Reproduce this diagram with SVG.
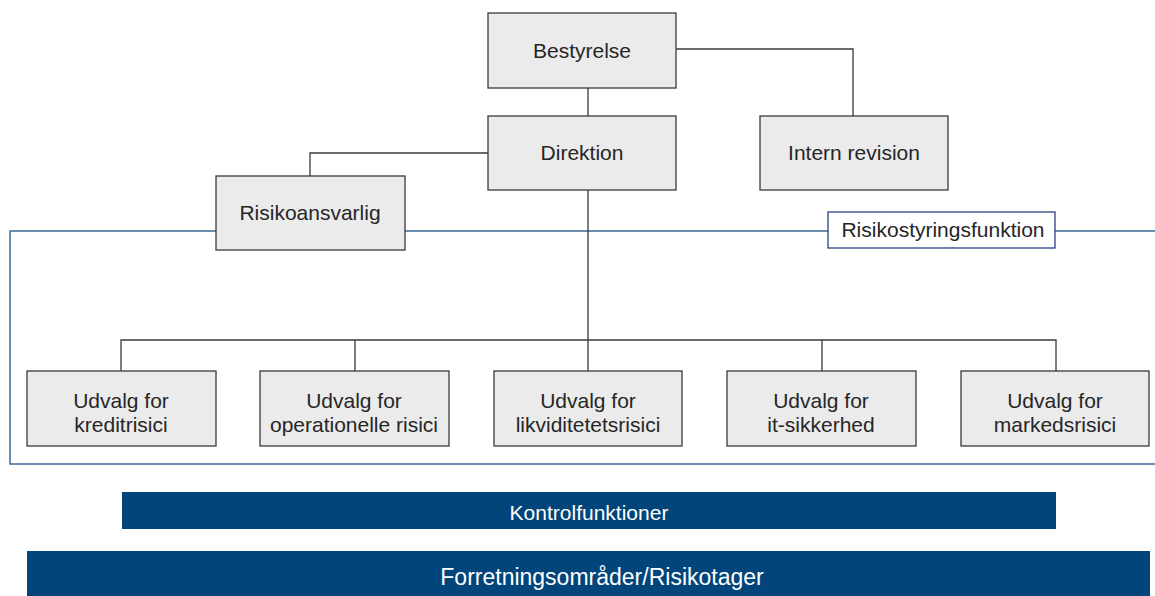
<svg xmlns="http://www.w3.org/2000/svg" width="1155" height="596" viewBox="0 0 1155 596">
<style>
.box{fill:#ebebeb;stroke:#3a3a3a;stroke-width:1.3}
.t{font-family:"Liberation Sans",Arial,sans-serif;font-size:21px;fill:#262626;text-anchor:middle}
.c{fill:none;stroke:#3a3a3a;stroke-width:1.3}
.b{fill:none;stroke:#3d6a98;stroke-width:1.5}
.bar{fill:#01457a}
.wt{font-family:"Liberation Sans",Arial,sans-serif;font-size:21px;fill:#fff;text-anchor:middle}
</style>
<rect width="1155" height="596" fill="#fff"/>
<g id="connectors">
<path class="b" d="M216 231H10V464H1155M405 231H828M1055 231H1155"/>
<path class="c" d="M588 88V116M676 49H853V116M488 153H310V176M588 190V371M121 371V340H1056V371M355 340V371M822 340V371"/>
</g>
<g id="bestyrelse"><rect class="box" x="488" y="13" width="188" height="75"/><text class="t" x="582" y="58">Bestyrelse</text></g>
<g id="direktion"><rect class="box" x="488" y="116" width="188" height="74"/><text class="t" x="582" y="160">Direktion</text></g>
<g id="intern-revision"><rect class="box" x="760" y="116" width="188" height="74"/><text class="t" x="854" y="160">Intern revision</text></g>
<g id="risikoansvarlig"><rect class="box" x="216" y="176" width="189" height="74"/><text class="t" x="310" y="220">Risikoansvarlig</text></g>
<g id="risikostyringsfunktion"><rect x="828" y="212" width="227" height="36" fill="#fff" stroke="#2b3f86" stroke-width="1.3"/><text class="t" x="943" y="237">Risikostyringsfunktion</text></g>
<g id="kredit"><rect class="box" x="27" y="371" width="189" height="75"/><text class="t" x="121" y="408">Udvalg for</text><text class="t" x="121" y="432">kreditrisici</text></g>
<g id="operationelle"><rect class="box" x="260" y="371" width="189" height="75"/><text class="t" x="354" y="408">Udvalg for</text><text class="t" x="354" y="432">operationelle risici</text></g>
<g id="likviditet"><rect class="box" x="494" y="371" width="188" height="75"/><text class="t" x="588" y="408">Udvalg for</text><text class="t" x="588" y="432">likviditetetsrisici</text></g>
<g id="it"><rect class="box" x="727" y="371" width="189" height="75"/><text class="t" x="821" y="408">Udvalg for</text><text class="t" x="821" y="432">it-sikkerhed</text></g>
<g id="marked"><rect class="box" x="961" y="371" width="188" height="75"/><text class="t" x="1055" y="408">Udvalg for</text><text class="t" x="1055" y="432">markedsrisici</text></g>
<g id="kontrolfunktioner"><rect class="bar" x="122" y="492" width="934" height="37"/><text class="wt" x="589" y="520">Kontrolfunktioner</text></g>
<g id="forretning"><rect class="bar" x="27" y="551" width="1123" height="45"/><text class="wt" x="602" y="585" style="font-size:23px">Forretningsområder/Risikotager</text></g>
</svg>
